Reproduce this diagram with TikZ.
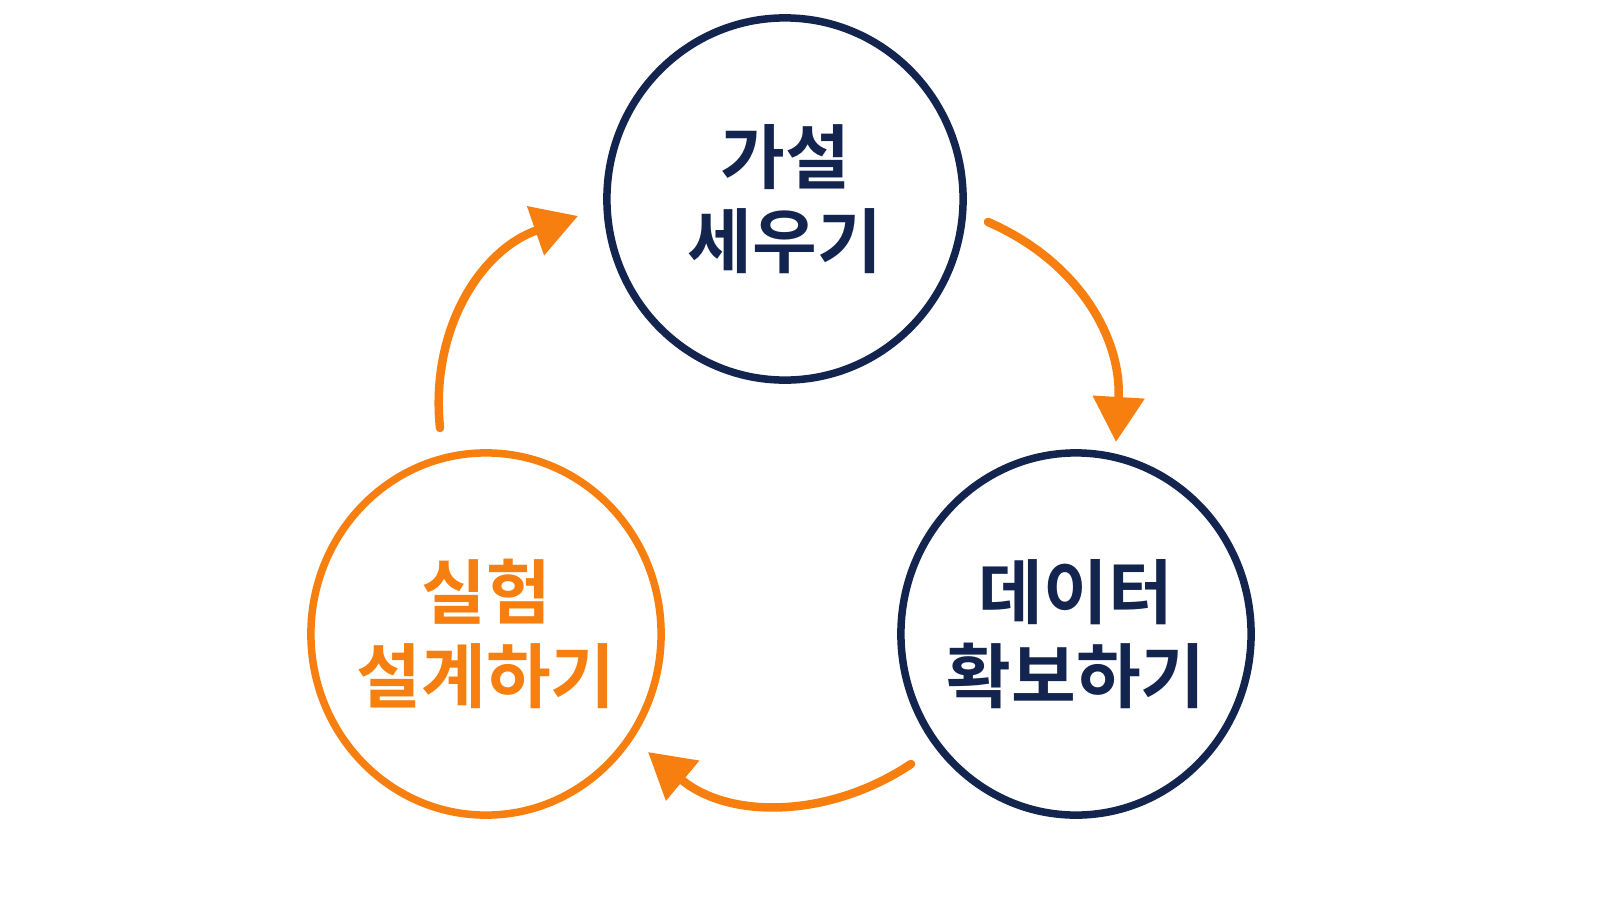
\documentclass[tikz,border=0pt]{standalone}
\usepackage{fontspec}
\newfontfamily\kr{Noto Sans CJK KR}[BoldFont={* Bold}]
\usetikzlibrary{arrows.meta,shapes.geometric}
\definecolor{navy}{HTML}{13244F}
\definecolor{orng}{HTML}{F77F0F}
\begin{document}
\begin{tikzpicture}[x=0.01cm,y=-0.01cm,
 circ/.style={draw=#1,line width=0.75mm,ellipse,minimum width=3.5cm,minimum height=3.62cm,inner sep=0pt},
 lab/.style={text=#1,font=\kr\bfseries\fontsize{20}{24}\selectfont,align=center},
 arr/.style={draw=orng,line width=0.85mm,line cap=round,-{Triangle[length=0.45cm,width=0.5cm]}}]
\useasboundingbox[fill=white] (0,0) rectangle (1600,900);
\node[circ=navy,minimum width=3.56cm] (a) at (785,199) {};
\node[circ=orng] (b) at (486,634) {};
\node[circ=navy] (c) at (1076,634) {};
\node[lab=navy] (ta) at (a) {가설\\세우기};
\node[lab=orng] (tb) at (b) {실험\\설계하기};
\node[lab=navy] (tc) at (c) {데이터\\확보하기};
\coordinate (s1) at (988,222); \coordinate (e1) at (1116,442);
\coordinate (s2) at (911,764); \coordinate (e2) at (648,752);
\coordinate (s3) at (440,428); \coordinate (e3) at (578,216);
\draw[arr] (s1) .. controls (1080,262) and (1122,340) .. (e1);
\draw[arr] (s2) .. controls (830,818) and (730,820) .. (e2);
\draw[arr] (s3) .. controls (430,330) and (480,250) .. (e3);
\end{tikzpicture}
\end{document}
